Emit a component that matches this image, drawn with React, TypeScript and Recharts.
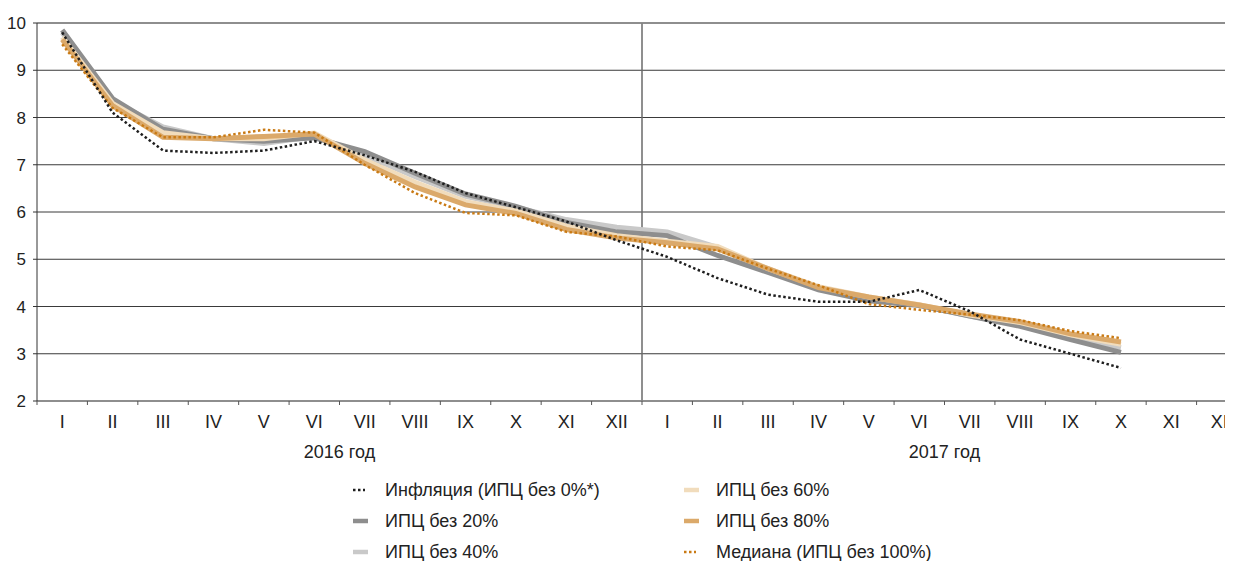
import React from 'react';
import { LineChart, Line, XAxis, YAxis, CartesianGrid, ReferenceLine } from 'recharts';

const FONT = '"Liberation Sans", Arial, "Noto Sans", sans-serif';

const titleText = '(в % к соответствующему периоду предыдущего года)';
const monthLabels = ['I', 'II', 'III', 'IV', 'V', 'VI', 'VII', 'VIII', 'IX', 'X', 'XI', 'XII'];
const yearLabels = ['2016 год', '2017 год'];
const yTicks = [2, 3, 4, 5, 6, 7, 8, 9, 10];

const inflation = [9.8, 8.1, 7.3, 7.25, 7.3, 7.5, 7.2, 6.85, 6.4, 6.1, 5.8, 5.4, 5.05, 4.6, 4.25, 4.1, 4.1, 4.35, 3.9, 3.3, 3.0, 2.7];
const cpi20 = [9.85, 8.4, 7.75, 7.55, 7.5, 7.57, 7.28, 6.82, 6.38, 6.12, 5.78, 5.58, 5.5, 5.08, 4.72, 4.35, 4.12, 4.02, 3.8, 3.58, 3.3, 3.03];
const cpi40 = [9.8, 8.35, 7.8, 7.55, 7.45, 7.6, 7.2, 6.75, 6.33, 6.1, 5.84, 5.68, 5.58, 5.25, 4.75, 4.38, 4.15, 4.03, 3.8, 3.62, 3.35, 3.13];
const cpi60 = [9.7, 8.3, 7.68, 7.55, 7.55, 7.67, 7.1, 6.63, 6.22, 6.02, 5.7, 5.5, 5.38, 5.27, 4.8, 4.42, 4.2, 4.04, 3.82, 3.66, 3.4, 3.2];
const cpi80 = [9.65, 8.25, 7.58, 7.55, 7.6, 7.65, 7.03, 6.53, 6.15, 5.97, 5.63, 5.45, 5.35, 5.22, 4.8, 4.4, 4.2, 4.03, 3.84, 3.68, 3.42, 3.25];
const median = [9.55, 8.2, 7.58, 7.58, 7.74, 7.68, 7.0, 6.4, 5.98, 5.93, 5.58, 5.48, 5.27, 5.19, 4.8, 4.45, 4.05, 3.93, 3.83, 3.71, 3.48, 3.33];

type Series = { key: string; name: string; values: number[]; color: string; width: number; dash?: string };

const series: Series[] = [
  { key: 'infl', name: 'Инфляция (ИПЦ без 0%*)', values: inflation, color: '#1e1e1e', width: 2.5, dash: '2.5 2.5' },
  { key: 'p20', name: 'ИПЦ без 20%', values: cpi20, color: '#8e8e8e', width: 5 },
  { key: 'p40', name: 'ИПЦ без 40%', values: cpi40, color: '#c9c9c9', width: 5 },
  { key: 'p60', name: 'ИПЦ без 60%', values: cpi60, color: '#f1dcbc', width: 5 },
  { key: 'p80', name: 'ИПЦ без 80%', values: cpi80, color: '#dba96a', width: 5 },
  { key: 'med', name: 'Медиана (ИПЦ без 100%)', values: median, color: '#c97a14', width: 2.5, dash: '2.5 2.5' },
];

const drawOrder = ['p40', 'p20', 'p60', 'p80', 'med', 'infl'];
const legendColumns = [['infl', 'p20', 'p40'], ['p60', 'p80', 'med']];

const data = yearLabels.flatMap((_, yi) =>
  monthLabels.map((m, mi) => {
    const idx = yi * 12 + mi;
    const row: Record<string, number | string | null> = { x: idx + 0.5, month: m };
    series.forEach((s) => {
      row[s.key] = idx < s.values.length ? s.values[idx] : null;
    });
    return row;
  })
);

const boundaryTicks = Array.from({ length: data.length + 1 }, (_, i) => i);
const monthTicks = data.map((d) => d.x as number);
const yearTicks = yearLabels.map((_, i) => i * 12 + 6);

const byKey = (k: string) => series.find((s) => s.key === k) as Series;

const Marker = ({ s }: { s: Series }) => (
  <svg width={15} height={10} style={{ display: 'block' }}>
    <line x1={0} y1={5} x2={s.dash ? 12 : 15} y2={5} stroke={s.color} strokeWidth={s.dash ? 2.5 : 4.5} strokeDasharray={s.dash} />
  </svg>
);

export default function App() {
  return (
    <div style={{ position: 'relative', width: 1225, height: 561, marginTop: -8, fontFamily: FONT }}>
      <div
        style={{
          position: 'absolute',
          left: 632,
          top: -15,
          transform: 'translateX(-50%)',
          whiteSpace: 'nowrap',
          fontWeight: 'bold',
          fontSize: 18,
          lineHeight: '18px',
          color: '#1a1a1a',
        }}
      >
        {titleText}
      </div>
      <div style={{ position: 'absolute', left: 0, top: 8, width: 1225, height: 545, overflow: 'hidden' }}>
        <LineChart
          width={1250}
          height={545}
          data={data}
          margin={{ top: 15, right: 11, bottom: 86, left: 0 }}
          style={{ fontFamily: FONT }}
        >
          <CartesianGrid vertical={false} stroke="#3a3a3a" strokeWidth={1} />
          <XAxis
            xAxisId="a"
            type="number"
            dataKey="x"
            domain={[0, data.length]}
            ticks={boundaryTicks}
            interval={0}
            tickFormatter={() => ''}
            tickSize={4}
            height={6}
            axisLine={{ stroke: '#8a8a8a', strokeWidth: 1.5 }}
            tickLine={{ stroke: '#555' }}
          />
          <XAxis
            xAxisId="b"
            type="number"
            dataKey="x"
            domain={[0, data.length]}
            ticks={monthTicks}
            interval={0}
            tickFormatter={(v: number) => monthLabels[Math.floor(v) % 12]}
            tickSize={0}
            tickMargin={8}
            height={30}
            axisLine={false}
            tickLine={false}
            tick={{ fontSize: 18, fill: '#222', fontFamily: FONT }}
          />
          <XAxis
            xAxisId="c"
            type="number"
            dataKey="x"
            domain={[0, data.length]}
            ticks={yearTicks}
            interval={0}
            tickFormatter={(v: number) => yearLabels[Math.floor(v / 12)]}
            tickSize={0}
            tickMargin={8}
            height={30}
            axisLine={false}
            tickLine={false}
            tick={{ fontSize: 18, fill: '#222', fontFamily: FONT }}
          />
          <YAxis
            type="number"
            domain={[2, 10]}
            ticks={yTicks}
            interval={0}
            width={29}
            tickSize={4}
            tickMargin={7}
            axisLine={{ stroke: '#333' }}
            tickLine={{ stroke: '#333' }}
            tick={{ fontSize: 17, fill: '#222', fontFamily: FONT }}
          />
          <ReferenceLine xAxisId="a" x={12} stroke="#6a6a6a" strokeWidth={1.5} />
          <ReferenceLine xAxisId="a" y={10} stroke="#8a8a8a" strokeWidth={1.5} />
          {drawOrder.map((k) => {
            const s = byKey(k);
            return (
              <Line
                key={k}
                xAxisId="a"
                type="linear"
                dataKey={k}
                name={s.name}
                stroke={s.color}
                strokeWidth={s.width}
                strokeDasharray={s.dash}
                dot={false}
                activeDot={false}
                isAnimationActive={false}
                connectNulls={false}
              />
            );
          })}
        </LineChart>
      </div>
      {legendColumns.map((col, ci) => (
        <div key={ci} style={{ position: 'absolute', left: ci === 0 ? 345 : 676, top: 481 }}>
          {col.map((k, ri) => {
            const s = byKey(k);
            return (
              <div
                key={k}
                style={{
                  position: 'absolute',
                  top: ri * 31,
                  left: 0,
                  height: 18,
                  display: 'flex',
                  alignItems: 'center',
                  whiteSpace: 'nowrap',
                  fontSize: 18,
                  lineHeight: '18px',
                  color: '#222',
                }}
              >
                <Marker s={s} />
                <span style={{ marginLeft: 17 }}>{s.name}</span>
              </div>
            );
          })}
        </div>
      ))}
    </div>
  );
}
